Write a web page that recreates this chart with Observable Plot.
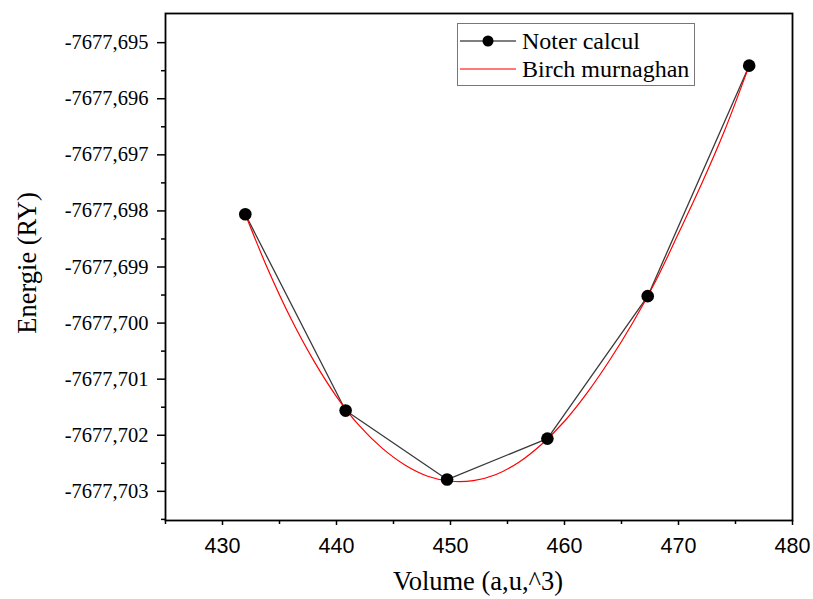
<!DOCTYPE html>
<html>
<head>
<meta charset="utf-8">
<script src="https://cdn.jsdelivr.net/npm/d3@7"></script>
<script src="https://cdn.jsdelivr.net/npm/@observablehq/plot@0.6"></script>
<style>
  html, body { margin: 0; padding: 0; background: #fff; }
  #wrap { position: relative; width: 813px; height: 599px; overflow: hidden; }
  #wrap svg { position: absolute; left: 0; top: 0; }
  .lab { position: absolute; font-family: "Liberation Serif", "Times New Roman", serif; color: #000; white-space: nowrap; }
  #legend { position: absolute; left: 457px; top: 23px; width: 238px; height: 63px; border: 1px solid #777; background: #fff; box-sizing: border-box; }
  #legend .row { position: absolute; left: 0; height: 28px; display: flex; align-items: center; }
  #legend .txt { font-family: "Liberation Serif", "Times New Roman", serif; font-size: 24px; color: #000; margin-left: 4px; }
</style>
</head>
<body>
<div id="wrap"></div>
<script>
// Calculated points
const volumes = [432.0, 440.8, 449.7, 458.5, 467.3, 476.2];
const energies = [-7677.69806, -7677.70156, -7677.70279, -7677.70206, -7677.69952, -7677.69541];

// Birch-Murnaghan fit curve
const fitVolumes = [432, 434, 436, 438, 440, 442, 444, 446, 448, 450, 452, 454, 456, 458, 460, 462, 464, 466, 468, 470, 472, 474, 476.2];
const fitEnergies = [-7677.69806, -7677.69905, -7677.69992, -7677.70067, -7677.70131, -7677.70183, -7677.70223, -7677.70253, -7677.70273, -7677.70282, -7677.70281, -7677.70270, -7677.70248, -7677.70216, -7677.70175, -7677.70124, -7677.70065, -7677.69999, -7677.69925, -7677.69840, -7677.69753, -7677.69659, -7677.69541];

// Ticks
const xTicks = [430, 440, 450, 460, 470, 480];
const xMinorTicks = [425, 435, 445, 455, 465, 475];
const yTicks = [-7677.695, -7677.696, -7677.697, -7677.698, -7677.699, -7677.700, -7677.701, -7677.702, -7677.703];
const yMinorTicks = [-7677.6955, -7677.6965, -7677.6975, -7677.6985, -7677.6995, -7677.7005, -7677.7015, -7677.7025, -7677.7035];

const xDomain = [425, 480];
const yDomain = [-7677.70352, -7677.69448];

const xLabel = "Volume (a,u,^3)";
const yLabel = "Energie (RY)";
const seriesNames = ["Noter calcul", "Birch murnaghan"];

const points = volumes.map((v, i) => ({v, e: energies[i]}));
const fit = fitVolumes.map((v, i) => ({v, e: fitEnergies[i]}));

const fmtY = d => d.toFixed(3).replace(".", ",");

const chart = Plot.plot({
  width: 813,
  height: 599,
  marginLeft: 165,
  marginTop: 13,
  marginRight: 21,
  marginBottom: 79,
  x: {domain: xDomain},
  y: {domain: yDomain},
  marks: [
    Plot.line(points, {x: "v", y: "e", stroke: "#3a3a3a", strokeWidth: 1.3}),
    Plot.line(fit, {x: "v", y: "e", stroke: "#ff0000", strokeWidth: 1.2, curve: "catmull-rom"}),
    Plot.dot(points, {x: "v", y: "e", r: 6.3, fill: "#000", stroke: "none"}),
    Plot.axisY({ticks: yTicks, tickFormat: fmtY, tickSize: 8, tickPadding: 9, strokeWidth: 1.5, label: null,
      fontSize: 20.5, fontFamily: "Liberation Serif", fill: "#000", stroke: "#000"}),
    Plot.axisY({ticks: yMinorTicks, tickFormat: null, text: null, tickSize: 4, strokeWidth: 1.5, label: null, stroke: "#000"}),
    Plot.axisX({ticks: xTicks, tickFormat: d => String(d), tickSize: 5, tickPadding: 12, strokeWidth: 1.5, label: null,
      fontSize: 21.5, fontFamily: "Liberation Sans", fill: "#000", stroke: "#000"}),
    Plot.axisX({ticks: xMinorTicks, text: null, tickSize: 4, strokeWidth: 1.5, label: null, stroke: "#000"}),
    Plot.frame({stroke: "#000", strokeWidth: 1.8})
  ],
  style: {background: "#fff", overflow: "visible"}
});

const wrap = document.getElementById("wrap");
wrap.appendChild(chart);

// Axis labels
const xl = document.createElement("div");
xl.className = "lab";
xl.textContent = xLabel;
xl.style.fontSize = "26.5px";
xl.style.left = "478px";
xl.style.top = "581px";
xl.style.transform = "translate(-50%, -50%)";
wrap.appendChild(xl);

const yl = document.createElement("div");
yl.className = "lab";
yl.textContent = yLabel;
yl.style.fontSize = "26.5px";
yl.style.left = "27px";
yl.style.top = "263px";
yl.style.transform = "translate(-50%, -50%) rotate(-90deg)";
wrap.appendChild(yl);

// Legend
const legend = document.createElement("div");
legend.id = "legend";
const ns = "http://www.w3.org/2000/svg";
function row(i, top) {
  const r = document.createElement("div");
  r.className = "row";
  r.style.top = top + "px";
  const s = document.createElementNS(ns, "svg");
  s.setAttribute("width", "60");
  s.setAttribute("height", "28");
  s.style.position = "static";
  const line = document.createElementNS(ns, "line");
  line.setAttribute("x1", "2"); line.setAttribute("x2", "58");
  line.setAttribute("y1", "14"); line.setAttribute("y2", "14");
  line.setAttribute("stroke", i === 0 ? "#555" : "#ff4d4d");
  line.setAttribute("stroke-width", "1.3");
  s.appendChild(line);
  if (i === 0) {
    const c = document.createElementNS(ns, "circle");
    c.setAttribute("cx", "30"); c.setAttribute("cy", "14"); c.setAttribute("r", "5.5");
    c.setAttribute("fill", "#000");
    s.appendChild(c);
  }
  r.appendChild(s);
  const t = document.createElement("span");
  t.className = "txt";
  t.textContent = seriesNames[i];
  r.appendChild(t);
  legend.appendChild(r);
}
row(0, 3);
row(1, 31);
wrap.appendChild(legend);
</script>
</body>
</html>
